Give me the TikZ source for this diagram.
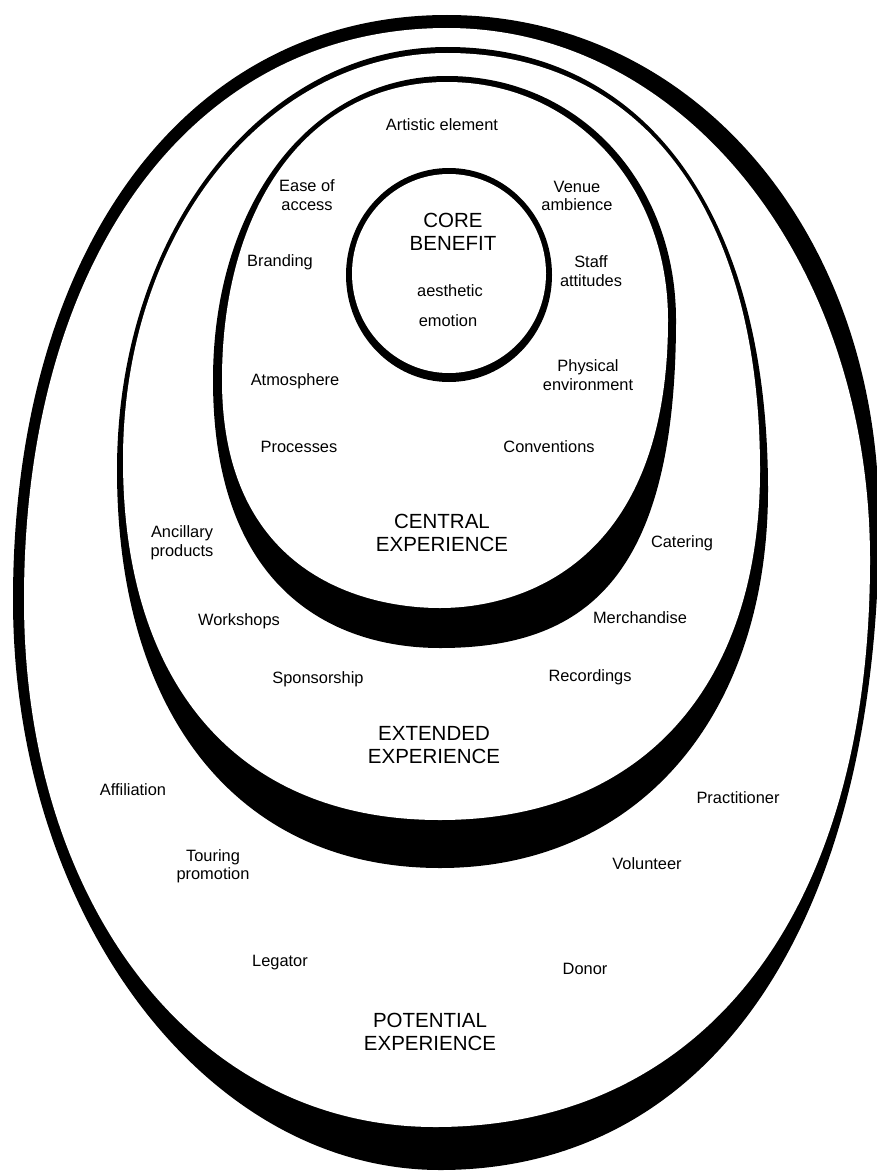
\documentclass[tikz,border=0pt]{standalone}
\usepackage{fontspec}
\setmainfont{Liberation Sans}
\begin{document}
\begin{tikzpicture}[x=1pt, y=-1pt,
  item/.style={align=center, font=\fontsize{16.4}{18.5}\selectfont},
  zonename/.style={align=center, font=\fontsize{20.5}{23}\selectfont}]
\useasboundingbox [fill=white] (0,0) rectangle (877,1172);

% potential experience
\fill (447,15) .. controls (693,15) and (879,232) .. (879,520)
  .. controls (879,923) and (712,1170) .. (440,1170)
  .. controls (205,1170) and (13,914) .. (13,600)
  .. controls (13,249) and (187,15) .. cycle;
\fill [white] (447,28) .. controls (684,28) and (870,262) .. (870,560)
  .. controls (870,912) and (705,1127) .. (435,1127)
  .. controls (197,1127) and (24,906) .. (24,600)
  .. controls (24,257) and (193,28) .. cycle;

% extended experience
\fill (447,47) .. controls (646,47) and (768,215) .. (768,490)
  .. controls (768,717) and (637,868) .. (440,868)
  .. controls (240,868) and (117,717) .. (117,470)
  .. controls (117,233) and (262,47) .. cycle;
\fill [white] (447,53) .. controls (642,53) and (760,211) .. (760,470)
  .. controls (760,687) and (641,820) .. (440,820)
  .. controls (240,820) and (123,687) .. (123,460)
  .. controls (123,232) and (266,53) .. cycle;

% central experience
\fill (447,76) .. controls (578,76) and (676,181) .. (676,320)
  .. controls (676,582) and (582,648) .. (440,648)
  .. controls (338,648) and (213,594) .. (213,380)
  .. controls (213,204) and (311,76) .. cycle;
\fill [white] (447,82) .. controls (573,82) and (668,184) .. (668,320)
  .. controls (668,565) and (520,608) .. (440,608)
  .. controls (364,608) and (222,574) .. (222,380)
  .. controls (222,201) and (312,82) .. cycle;

% core benefit
\fill (449,275) ellipse (103pt and 107pt);
\fill [white] (449,273.5) ellipse (97pt and 99.5pt);

\node[zonename] (core) at (453,232) {CORE\\BENEFIT};
\node[item] (aesthetic) at (450,291) {aesthetic};
\node[item] (emotion) at (448,321) {emotion};

\node[item] (artistic) at (442,125) {Artistic element};
\node[item] (ease) at (307,195) {Ease of\\access};
\node[item] (venue) at (577,196) {Venue\\ambience};
\node[item] (branding) at (280,262) {Branding};
\node[item] (staff) at (591,271) {Staff\\attitudes};
\node[item] (atmosphere) at (295,381) {Atmosphere};
\node[item] (physical) at (588,375) {Physical\\environment};
\node[item] (processes) at (299,447) {Processes};
\node[item] (conventions) at (549,447) {Conventions};
\node[zonename] (central) at (442,533) {CENTRAL\\EXPERIENCE};

\node[item] (ancillary) at (182,543) {Ancillary\\products};
\node[item] (catering) at (682,543) {Catering};
\node[item] (workshops) at (239,621) {Workshops};
\node[item] (merchandise) at (640,618) {Merchandise};
\node[item] (sponsorship) at (318,679) {Sponsorship};
\node[item] (recordings) at (590,677) {Recordings};
\node[zonename] (extended) at (434,745) {EXTENDED\\EXPERIENCE};

\node[item] (affiliation) at (133,790) {Affiliation};
\node[item] (practitioner) at (738,798) {Practitioner};
\node[item] (touring) at (213,866) {Touring\\promotion};
\node[item] (volunteer) at (647,864) {Volunteer};
\node[item] (legator) at (280,963) {Legator};
\node[item] (donor) at (585,969) {Donor};
\node[zonename] (potential) at (430,1032) {POTENTIAL\\EXPERIENCE};
\end{tikzpicture}
\end{document}
